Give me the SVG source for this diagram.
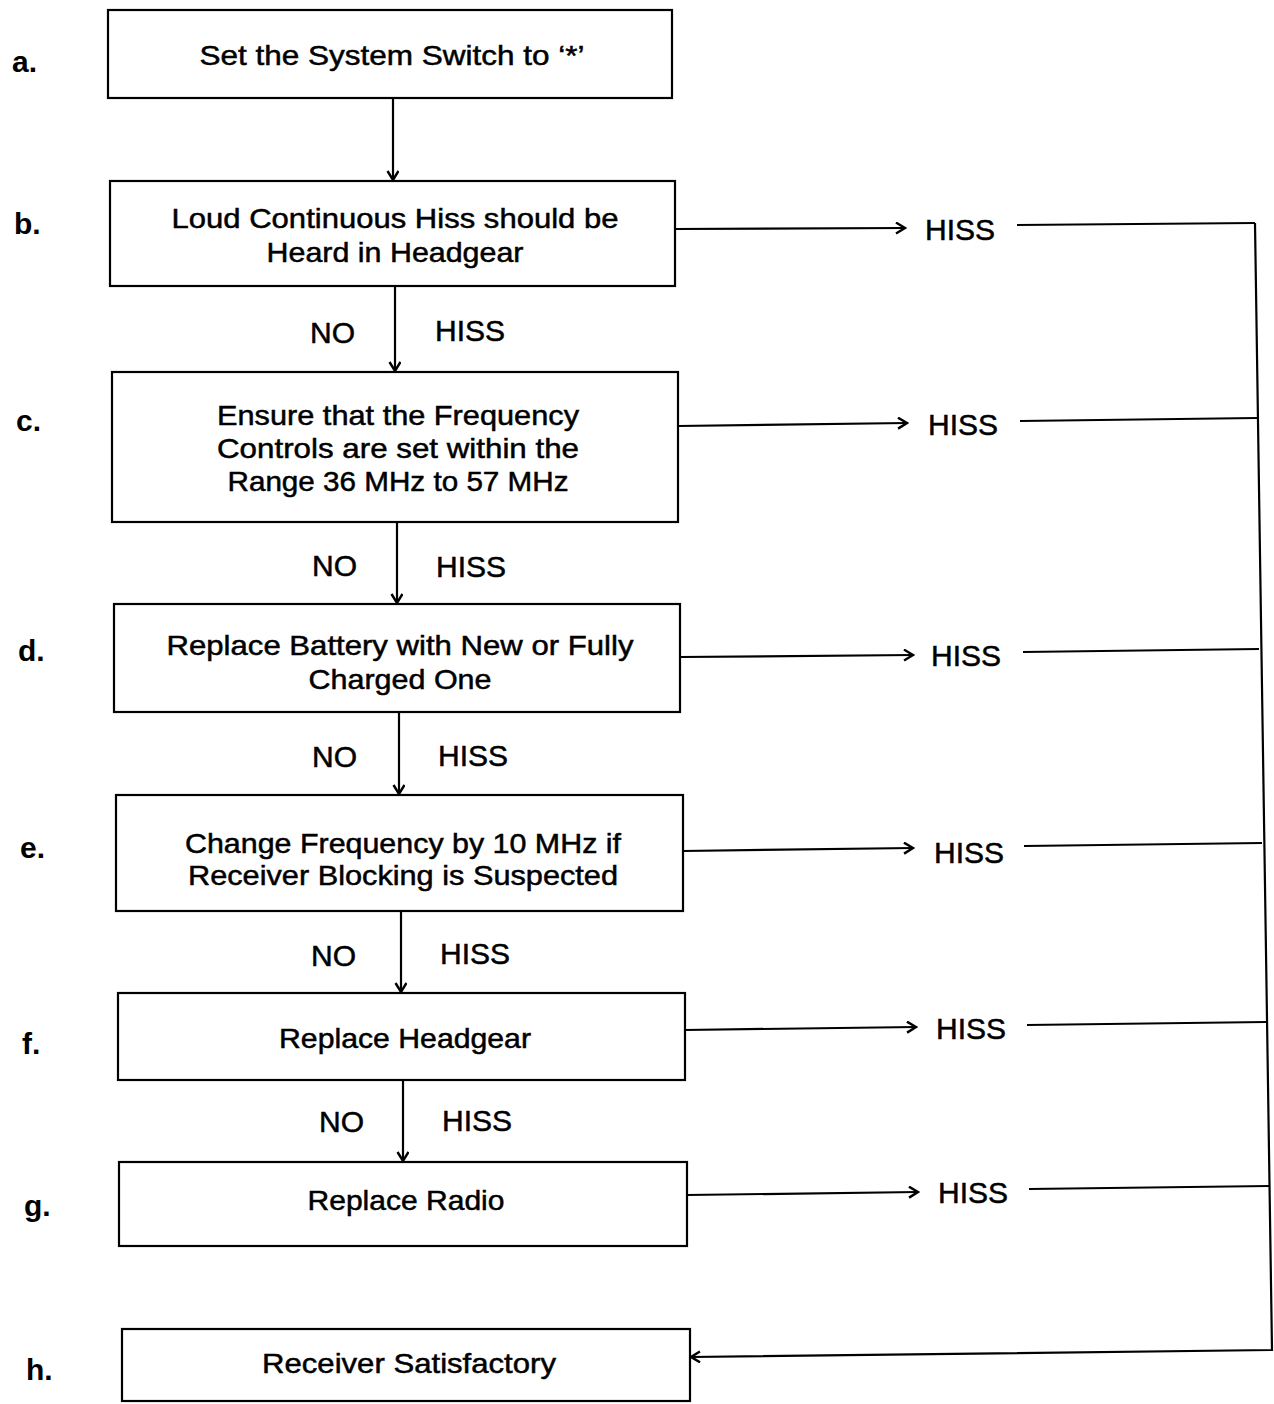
<svg xmlns="http://www.w3.org/2000/svg" width="1274" height="1404" viewBox="0 0 1274 1404">
<defs>
<marker id="arr" markerWidth="14" markerHeight="14" refX="10" refY="6" orient="auto" markerUnits="userSpaceOnUse">
<path d="M1,0.5 L10,6 L1,11.5" fill="none" stroke="#000" stroke-width="2.4"/>
</marker>
<style>
.box{fill:#fff;stroke:#000;stroke-width:2.2}
.t{font-family:"Liberation Sans",Arial,sans-serif;font-size:28px;fill:#000;stroke:#000;stroke-width:0.5;text-anchor:middle}
.lbl{font-family:"Liberation Sans",Arial,sans-serif;font-size:30px;font-weight:bold;fill:#000}
.h{font-family:"Liberation Sans",Arial,sans-serif;font-size:30px;fill:#000;stroke:#000;stroke-width:0.5}
.c{fill:none;stroke:#000;stroke-width:2.2}
</style>
</defs>
<rect width="1274" height="1404" fill="#fff"/>
<g id="labels">
<text class="lbl" x="12" y="72">a.</text>
<text class="lbl" x="14" y="234">b.</text>
<text class="lbl" x="16" y="431">c.</text>
<text class="lbl" x="18" y="661">d.</text>
<text class="lbl" x="20" y="858">e.</text>
<text class="lbl" x="22" y="1054">f.</text>
<text class="lbl" x="24" y="1216">g.</text>
<text class="lbl" x="26" y="1380">h.</text>
</g>
<g id="node-a">
<rect class="box" x="108" y="10" width="564" height="88"/>
<text class="t" x="392" y="65" textLength="385" lengthAdjust="spacingAndGlyphs">Set the System Switch to ‘*’</text>
</g>
<g id="node-b">
<rect class="box" x="110" y="181" width="565" height="105"/>
<text class="t" x="395" y="228" textLength="447" lengthAdjust="spacingAndGlyphs">Loud Continuous Hiss should be</text>
<text class="t" x="395" y="262" textLength="257" lengthAdjust="spacingAndGlyphs">Heard in Headgear</text>
</g>
<g id="node-c">
<rect class="box" x="112" y="372" width="566" height="150"/>
<text class="t" x="398" y="425" textLength="362" lengthAdjust="spacingAndGlyphs">Ensure that the Frequency</text>
<text class="t" x="398" y="458" textLength="362" lengthAdjust="spacingAndGlyphs">Controls are set within the</text>
<text class="t" x="398" y="491" textLength="341" lengthAdjust="spacingAndGlyphs">Range 36 MHz to 57 MHz</text>
</g>
<g id="node-d">
<rect class="box" x="114" y="604" width="566" height="108"/>
<text class="t" x="400" y="655" textLength="467" lengthAdjust="spacingAndGlyphs">Replace Battery with New or Fully</text>
<text class="t" x="400" y="689" textLength="183" lengthAdjust="spacingAndGlyphs">Charged One</text>
</g>
<g id="node-e">
<rect class="box" x="116" y="795" width="567" height="116"/>
<text class="t" x="403" y="853" textLength="436" lengthAdjust="spacingAndGlyphs">Change Frequency by 10 MHz if</text>
<text class="t" x="403" y="885" textLength="430" lengthAdjust="spacingAndGlyphs">Receiver Blocking is Suspected</text>
</g>
<g id="node-f">
<rect class="box" x="118" y="993" width="567" height="87"/>
<text class="t" x="405" y="1048" textLength="252" lengthAdjust="spacingAndGlyphs">Replace Headgear</text>
</g>
<g id="node-g">
<rect class="box" x="119" y="1162" width="568" height="84"/>
<text class="t" x="406" y="1210" textLength="197" lengthAdjust="spacingAndGlyphs">Replace Radio</text>
</g>
<g id="node-h">
<rect class="box" x="122" y="1329" width="568" height="72"/>
<text class="t" x="409" y="1373" textLength="294" lengthAdjust="spacingAndGlyphs">Receiver Satisfactory</text>
</g>
<g id="connectors">
<line class="c" x1="393" y1="98" x2="393" y2="180" marker-end="url(#arr)"/>
<line class="c" x1="395" y1="286" x2="395" y2="371" marker-end="url(#arr)"/>
<line class="c" x1="397" y1="522" x2="397" y2="603" marker-end="url(#arr)"/>
<line class="c" x1="399" y1="712" x2="399" y2="794" marker-end="url(#arr)"/>
<line class="c" x1="401" y1="911" x2="401" y2="992" marker-end="url(#arr)"/>
<line class="c" x1="403" y1="1080" x2="403" y2="1161" marker-end="url(#arr)"/>
<line class="c" x1="675" y1="229" x2="905" y2="228" marker-end="url(#arr)"/>
<line class="c" x1="678" y1="426" x2="907" y2="423" marker-end="url(#arr)"/>
<line class="c" x1="680" y1="657" x2="913" y2="655" marker-end="url(#arr)"/>
<line class="c" x1="683" y1="851" x2="913" y2="848" marker-end="url(#arr)"/>
<line class="c" x1="685" y1="1030" x2="916" y2="1027" marker-end="url(#arr)"/>
<line class="c" x1="687" y1="1195" x2="918" y2="1192" marker-end="url(#arr)"/>
<line class="c" x1="1017" y1="225" x2="1255" y2="223"/>
<line class="c" x1="1020" y1="421" x2="1257" y2="418"/>
<line class="c" x1="1023" y1="652" x2="1259" y2="649"/>
<line class="c" x1="1024" y1="846" x2="1262" y2="843"/>
<line class="c" x1="1027" y1="1025" x2="1266" y2="1022"/>
<line class="c" x1="1029" y1="1189" x2="1269" y2="1186"/>
<polyline class="c" points="1255,223 1272,1350 691,1357" marker-end="url(#arr)"/>
<text class="h" x="310" y="343">NO</text>
<text class="h" x="435" y="341">HISS</text>
<text class="h" x="312" y="576">NO</text>
<text class="h" x="436" y="577">HISS</text>
<text class="h" x="312" y="767">NO</text>
<text class="h" x="438" y="766">HISS</text>
<text class="h" x="311" y="966">NO</text>
<text class="h" x="440" y="964">HISS</text>
<text class="h" x="319" y="1132">NO</text>
<text class="h" x="442" y="1131">HISS</text>
<text class="h" x="925" y="240">HISS</text>
<text class="h" x="928" y="435">HISS</text>
<text class="h" x="931" y="666">HISS</text>
<text class="h" x="934" y="863">HISS</text>
<text class="h" x="936" y="1039">HISS</text>
<text class="h" x="938" y="1203">HISS</text>
</g>
</svg>
